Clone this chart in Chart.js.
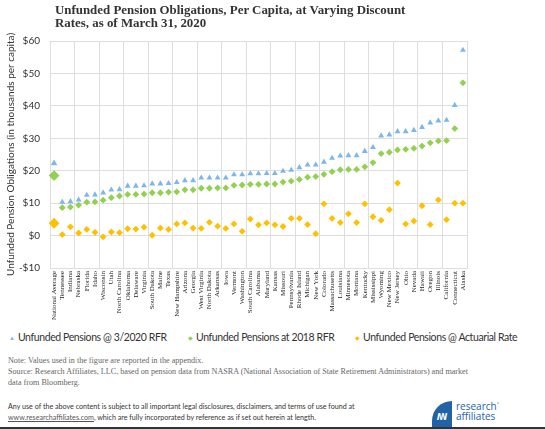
<!DOCTYPE html>
<html>
<head>
<meta charset="utf-8">
<script src="https://cdn.jsdelivr.net/npm/chart.js@4.4.1/dist/chart.umd.min.js"></script>
<style>
  body { margin: 0; background: #fff; }
  #wrap { position: relative; width: 545px; height: 429px; overflow: hidden; }
  #myChart { position: absolute; left: 0; top: 0; }
  .title { position: absolute; left: 55px; top: 4px; font: bold 12.9px "Liberation Serif", serif; line-height: 12.5px; color: #333; }
  .leg { position: absolute; top: 331px; font: 10.5px Lato, sans-serif; letter-spacing: -0.4px; color: #333; white-space: nowrap; }
  .leg span { font-size: 6px; margin-right: 3px; position: relative; top: -1px; letter-spacing: 0; }
  .note { position: absolute; left: 8px; font: 8.15px "Liberation Serif", serif; color: #666; white-space: nowrap; }
  .foot { position: absolute; left: 8px; font: 7.15px Lato, sans-serif; color: #333; white-space: nowrap; }
  .foot u { color: #555; }
  .logo { position: absolute; left: 432px; top: 401px; width: 20px; height: 26px; background: #2263a8; border-top-left-radius: 20px; color: #fff; font: bold 8px "DejaVu Sans", sans-serif; text-align: center; line-height: 34px; }
  .logotxt { position: absolute; left: 456px; top: 399px; font: 10px "Open Sans", sans-serif; line-height: 10px; color: #2263a8; }
  .bar { position: absolute; left: 0; top: 427px; width: 545px; height: 2px; background: #333; }
</style>
</head>
<body>
<div id="wrap">
  <canvas id="myChart" width="545" height="330"></canvas>
  <div class="title">Unfunded Pension Obligations, Per Capita, at Varying Discount<br>Rates, as of March 31, 2020</div>
  <div class="leg" style="left:9px"><span style="color:#7cb7ea">▲</span>Unfunded Pensions @ 3/2020 RFR</div>
  <div class="leg" style="left:188px"><span style="color:#92d050">◆</span>Unfunded Pensions at 2018 RFR</div>
  <div class="leg" style="left:355px"><span style="color:#ffc000">◆</span>Unfunded Pensions @ Actuarial Rate</div>
  <div class="note" style="top:356px">Note: Values used in the figure are reported in the appendix.</div>
  <div class="note" style="top:367px">Source: Research Affiliates, LLC, based on pension data from NASRA (National Association of State Retirement Administrators) and market</div>
  <div class="note" style="top:378px">data from Bloomberg.</div>
  <div class="foot" style="top:402px">Any use of the above content is subject to all important legal disclosures, disclaimers, and terms of use found at</div>
  <div class="foot" style="top:413px"><u>www.researchaffiliates.com</u>, which are fully incorporated by reference as if set out herein at length.</div>
  <div class="logo">ꟿ</div>
  <div class="logotxt">research<sup style="font-size:5px">°</sup><br>affiliates</div>
  <div class="bar"></div>
</div>
<script>
var states = ['National Average', 'Tennessee', 'Indiana', 'Nebraska', 'Florida', 'Idaho', 'Wisconsin', 'Utah',
  'North Carolina', 'Oklahoma', 'Delaware', 'Virginia', 'South Dakota', 'Maine', 'Texas', 'New Hampshire',
  'Arizona', 'Georgia', 'West Virginia', 'North Dakota', 'Arkansas', 'Iowa', 'Vermont', 'Washington',
  'South Carolina', 'Alabama', 'Maryland', 'Kansas', 'Missouri', 'Pennsylvania', 'Rhode Island', 'Michigan',
  'New York', 'Colorado', 'Massachusetts', 'Louisiana', 'Minnesota', 'Montana', 'Kentucky', 'Mississippi',
  'Wyoming', 'New Mexico', 'New Jersey', 'Ohio', 'Nevada', 'Hawaii', 'Oregon', 'Illinois', 'California',
  'Connecticut', 'Alaska'];

// thousands of $ per capita
var rfr2020 = [22.3, 10.3, 10.5, 11.0, 12.5, 12.6, 13.2, 14.1, 14.2, 15.3, 15.3, 15.4, 16.0, 16.0, 16.1, 16.4,
  17.0, 17.0, 17.8, 17.8, 17.8, 17.8, 18.8, 18.8, 19.1, 19.1, 19.2, 19.2, 19.9, 20.2, 21.0, 21.8,
  21.8, 22.7, 23.9, 24.6, 24.7, 24.7, 26.0, 27.2, 30.8, 31.1, 32.1, 32.1, 32.5, 33.4, 34.8, 35.4, 35.6,
  40.2, 57.2];
var rfr2018 = [18.5, 8.6, 8.8, 9.4, 10.3, 10.4, 10.9, 11.7, 12.2, 12.7, 12.7, 12.8, 13.2, 13.2, 13.4, 13.5,
  14.1, 14.1, 14.6, 14.6, 14.7, 14.7, 15.5, 15.6, 15.8, 15.8, 15.9, 15.9, 16.5, 16.8, 17.3, 18.0,
  18.2, 18.9, 19.7, 20.3, 20.4, 20.4, 21.2, 22.5, 25.3, 25.7, 26.4, 26.6, 26.9, 27.6, 28.6, 29.2, 29.3,
  33.0, 47.1];
var actuarial = [3.8, 0.3, 2.7, 0.8, 1.9, 1.0, -0.4, 1.1, 0.9, 2.1, 2.0, 2.6, 0.1, 2.3, 1.9, 3.6,
  3.9, 2.3, 2.2, 4.1, 2.9, 2.2, 3.6, 1.3, 5.1, 3.3, 3.9, 3.3, 2.8, 5.3, 5.3, 3.4,
  0.6, 9.8, 5.3, 4.0, 6.7, 4.0, 9.8, 5.8, 4.7, 8.0, 16.2, 3.6, 4.5, 9.2, 3.4, 11.0, 4.9,
  10.0, 10.0];

var GRID = '#dedede';
function sizes(small, big) { return states.map(function (s, i) { return i === 0 ? big : small; }); }

var ctx = document.getElementById('myChart').getContext('2d');
var myChart = new Chart(ctx, {
  type: 'line',
  data: {
    labels: states,
    datasets: [{
      label: 'Unfunded Pensions @ 3/2020 RFR',
      data: rfr2020,
      showLine: false,
      pointStyle: 'triangle',
      pointRadius: sizes(3.4, 3.8),
      pointBorderWidth: 0,
      backgroundColor: '#7cb7ea',
      borderColor: '#7cb7ea'
    }, {
      label: 'Unfunded Pensions at 2018 RFR',
      data: rfr2018,
      showLine: false,
      pointStyle: 'rectRot',
      pointRadius: sizes(3.4, 5.4),
      pointBorderWidth: 0,
      backgroundColor: '#92d050',
      borderColor: '#92d050'
    }, {
      label: 'Unfunded Pensions @ Actuarial Rate',
      data: actuarial,
      showLine: false,
      pointStyle: 'rectRot',
      pointRadius: sizes(3.4, 5.4),
      pointBorderWidth: 0,
      backgroundColor: '#ffc000',
      borderColor: '#ffc000'
    }]
  },
  options: {
    responsive: false,
    animation: false,
    layout: { padding: { top: 41, right: 78, bottom: 2, left: 0 } },
    plugins: {
      legend: { display: false },
      tooltip: { enabled: false }
    },
    scales: {
      x: {
        offset: true,
        grid: {
          offset: true,
          drawTicks: false,
          color: function (c) { return (c.type !== 'tick' || c.index % 3 === 0) ? GRID : 'rgba(0,0,0,0)'; }
        },
        border: { color: GRID },
        ticks: {
          autoSkip: false,
          minRotation: 90,
          maxRotation: 90,
          padding: 3,
          color: '#222',
          font: { family: 'Liberation Serif', size: 7 }
        },
        afterFit: function (s) { s.height = 60; }
      },
      y: {
        min: -10,
        max: 60,
        grid: { color: GRID, drawTicks: false },
        border: { color: GRID },
        ticks: {
          stepSize: 10,
          padding: 10,
          color: '#333',
          font: { family: 'Lato', size: 10 },
          callback: function (v) { return v < 0 ? '-$' + Math.abs(v) : '$' + v; }
        },
        title: {
          display: true,
          text: 'Unfunded Pension Obligations (in thousands per capita)',
          color: '#333',
          padding: { top: 5, bottom: 0 },
          font: { family: 'Lato', size: 10 }
        },
        afterFit: function (s) { s.width = 50; }
      }
    }
  }
});
</script>
</body>
</html>
